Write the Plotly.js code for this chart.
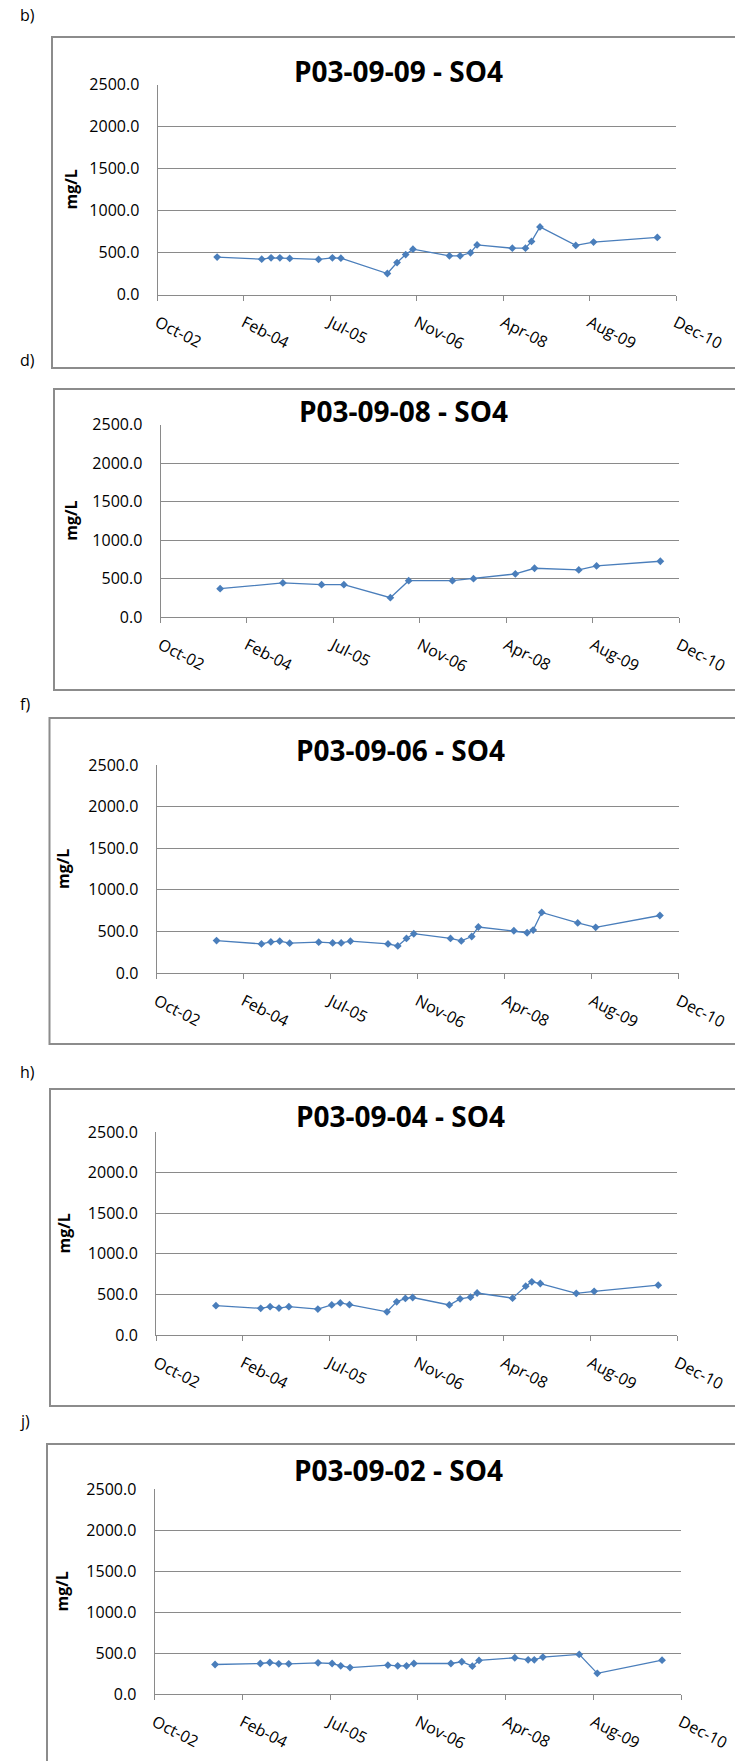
<!DOCTYPE html>
<html><head><meta charset="utf-8">
<script src="https://cdn.plot.ly/plotly-3.0.1.min.js"></script>
<style>html,body{margin:0;padding:0;background:#fff}</style>
</head><body><div id="chart" style="width:735px;height:1761px"></div>
<script>
// ---- data ----
const titles = ['P03-09-09 - SO4','P03-09-08 - SO4','P03-09-06 - SO4','P03-09-04 - SO4','P03-09-02 - SO4'];
const panelLabels = ['b)','d)','f)','h)','j)'];
const tickDates = ['2002-10-11','2004-02-23','2005-07-07','2006-11-19','2008-04-02','2009-08-15','2010-12-28'];
const tickLabels = ['Oct-02','Feb-04','Jul-05','Nov-06','Apr-08','Aug-09','Dec-10'];
const yTicks = [0,500,1000,1500,2000,2500];
const yTitle = 'mg/L';

const datesP1 = ['2003-09-21','2004-06-05','2004-07-29','2004-09-18','2004-11-14','2005-04-30','2005-07-19','2005-09-06','2006-06-02','2006-07-28','2006-09-16','2006-10-28','2007-05-27','2007-07-28','2007-09-26','2007-11-03','2008-05-25','2008-08-09','2008-09-13','2008-11-01','2009-05-27','2009-09-07','2010-09-11'];
const valuesP1 = [445,421,437,437,430,418,437,433,250,380,475,539,460,460,497,590,551,551,632,805,584,624,680];

const datesP2 = ['2003-09-21','2004-09-18','2005-04-30','2005-09-06','2006-06-02','2006-09-16','2007-05-27','2007-09-26','2008-05-25','2008-09-13','2009-05-27','2009-09-07','2010-09-11'];
const valuesP2 = [368,442,420,420,251,472,472,498,559,633,611,663,724];

const datesP3 = ['2003-09-21','2004-06-05','2004-07-29','2004-09-18','2004-11-14','2005-04-30','2005-07-19','2005-09-06','2005-10-29','2006-06-02','2006-07-28','2006-09-16','2006-10-28','2007-05-27','2007-07-28','2007-09-26','2007-11-03','2008-05-25','2008-08-09','2008-09-13','2008-11-01','2009-05-27','2009-09-07','2010-09-11'];
const valuesP3 = [390,350,374,382,358,370,362,362,382,350,325,415,472,415,386,439,553,508,484,516,728,602,549,691];

const datesP4 = datesP3;
const valuesP4 = [361,328,349,332,349,319,370,395,374,286,408,450,462,370,445,466,517,454,601,655,634,513,538,613];

const datesP5 = datesP3;
const valuesP5 = [360,372,384,368,368,380,372,343,322,351,343,343,372,372,393,339,409,442,417,417,450,483,252,413];

const allDates = [datesP1,datesP2,datesP3,datesP4,datesP5];
const allValues = [valuesP1,valuesP2,valuesP3,valuesP4,valuesP5];

// ---- layout geometry (pixels) ----
const W = 735, H = 1761;
const geom = [
  {L:157.5, R:676, T:84.5, B:294.5, fL:52, fT:37, fB:368, lab:15, titX:399, titY:71, ytX:70},
  {L:160.5, R:679, T:424.5, B:617, fL:54, fT:389, fB:690, lab:360, titX:403, titY:411, ytX:71},
  {L:156.5, R:678.7, T:765, B:973, fL:49.5, fT:718, fB:1044, lab:704, titX:400, titY:750, ytX:63},
  {L:156, R:677, T:1132, B:1335, fL:50, fT:1089, fB:1406, lab:1072, titX:400, titY:1116, ytX:63},
  {L:154.5, R:681, T:1489, B:1694, fL:47, fT:1444, fB:1800, lab:1421, titX:399, titY:1470, ytX:61}
];
const px = x => x / W;
const py = y => 1 - y / H;

const blue = '#4a7ebb';
const grid = '#8a8a8a';
const font = 'Open Sans, Liberation Sans, sans-serif';

const data = [];
const layout = {
  width: W, height: H,
  margin: {l:0, r:0, t:0, b:0},
  paper_bgcolor: '#fff', plot_bgcolor: '#fff',
  showlegend: false,
  font: {family: font, color: '#000', size: 16},
  annotations: [], shapes: []
};

geom.forEach((g, i) => {
  const n = i === 0 ? '' : String(i + 1);
  data.push({
    type: 'scatter', mode: 'lines+markers',
    x: allDates[i], y: allValues[i],
    xaxis: 'x' + n, yaxis: 'y' + n,
    line: {color: blue, width: 1.3},
    marker: {symbol: 'diamond', size: 6, color: blue},
    hoverinfo: 'x+y'
  });
  layout['xaxis' + n] = {
    type: 'date', domain: [px(g.L), px(g.R)],
    range: [tickDates[0], tickDates[tickDates.length - 1]],
    anchor: 'y' + n,
    tickmode: 'array', tickvals: tickDates, ticktext: tickLabels,
    tickangle: 27, showgrid: false, zeroline: false,
    showline: true, linecolor: grid, linewidth: 1,
    ticks: 'outside', ticklen: 5, tickcolor: grid, tickwidth: 1,
    ticklabelstandoff: 7,
    tickfont: {family: font, size: 16, color: '#000'}
  };
  layout['yaxis' + n] = {
    domain: [py(g.B), py(g.T)], range: [0, 2500],
    anchor: 'x' + n,
    tickmode: 'array', tickvals: yTicks, tickformat: '.1f',
    showgrid: true, gridcolor: grid, gridwidth: 1, zeroline: false,
    showline: true, linecolor: grid, linewidth: 1,
    ticks: '', ticklabelstandoff: 14,
    tickfont: {family: font, size: 16, color: '#000'}
  };
  layout.shapes.push({
    type: 'rect', xref: 'paper', yref: 'paper',
    x0: px(g.fL), x1: 1.1, y0: py(g.fB), y1: py(g.fT),
    line: {color: '#8c8c8c', width: 2}, fillcolor: 'rgba(0,0,0,0)', layer: 'below'
  });
  layout.annotations.push({
    xref: 'paper', yref: 'paper', x: px(g.titX), y: py(g.titY),
    xanchor: 'center', yanchor: 'middle', showarrow: false,
    text: '<b>' + titles[i] + '</b>',
    font: {family: font, size: 28, color: '#000'}
  });
  layout.annotations.push({
    xref: 'paper', yref: 'paper', x: px(g.ytX), y: py((g.T + g.B) / 2),
    xanchor: 'center', yanchor: 'middle', showarrow: false, textangle: -90,
    text: '<b>' + yTitle + '</b>',
    font: {family: font, size: 16, color: '#000'}
  });
  layout.annotations.push({
    xref: 'paper', yref: 'paper', x: px(18), y: py(g.lab),
    xanchor: 'left', yanchor: 'middle', showarrow: false,
    text: panelLabels[i],
    font: {family: font, size: 16, color: '#000'}
  });
});

Plotly.newPlot('chart', data, layout, {staticPlot: true, displayModeBar: false});
</script>
</body></html>
